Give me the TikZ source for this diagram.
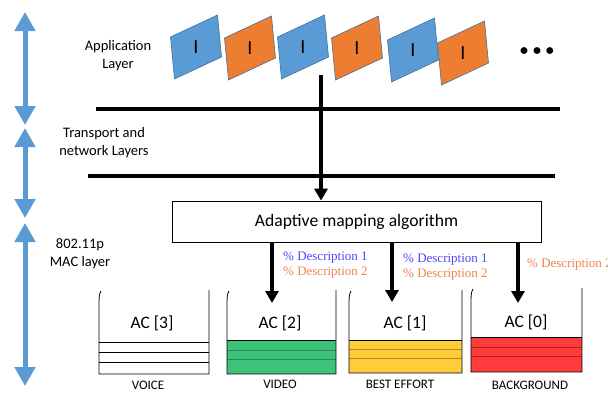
\documentclass[tikz,border=0pt]{standalone}
\usepackage{fontspec}
\setmainfont{Carlito}
\newfontfamily\descfont{Liberation Serif}
\usetikzlibrary{arrows.meta}
\definecolor{ablue}{HTML}{5B9BD5}
\definecolor{aorange}{HTML}{ED7D31}
\definecolor{edgeblue}{HTML}{41719C}
\definecolor{dblue}{HTML}{5046F5}
\definecolor{dorange}{HTML}{F0824A}
\definecolor{qgreen}{HTML}{3DC27A}
\definecolor{qgreenl}{HTML}{2A8A55}
\definecolor{qyellow}{HTML}{FFCD3A}
\definecolor{qyellowl}{HTML}{B08A20}
\definecolor{qred}{HTML}{FF3B3B}
\definecolor{qredl}{HTML}{A82020}
\tikzset{
  layerarrow/.style={draw=ablue,line width=5pt,{Triangle[width=20pt,length=19pt]}-{Triangle[width=20pt,length=19pt]}},
  flowarrow/.style={draw=black,line width=3.5pt,-{Triangle[width=13pt,length=12pt]}},
  layerline/.style={draw=black,line width=4pt},
  layertext/.style={align=center,font=\fontsize{14.5}{18}\selectfont},
  pkt/.style={draw=edgeblue,line width=0.6pt},
  pktlabel/.style={font=\fontsize{20}{20}\selectfont},
  algbox/.style={draw=black,line width=0.8pt,minimum width=369pt,minimum height=41pt,inner sep=0pt,font=\fontsize{17.6}{17.6}\selectfont},
  desc/.style={anchor=west,inner sep=0pt,font=\descfont\fontsize{13}{13}\selectfont},
  aclabel/.style={font=\fontsize{17.5}{17.5}\selectfont},
  qlabel/.style={font=\fontsize{13}{13}\selectfont},
  bucketline/.style={draw=black,line width=0.8pt}
}
\newcommand\pktshape[4]{%
  \filldraw[pkt,fill=#4] (#2-25.5,#3-10) -- ++(47,-22) -- ++(4,42) -- ++(-47,22) -- cycle;
  \node[pktlabel] (#1) at (#2,#3) {I};}
\newcommand\bucketshape[5]{% L R T B
  \draw[bucketline] (#1+2,#3+1) .. controls (#1,#3+4) and (#1,#3+9) .. (#1,#3+15) -- (#1,#4) -- (#2,#4) -- (#2,#3);}
\begin{document}
\begin{tikzpicture}[x=1pt,y=-1pt]
\useasboundingbox (0,0) rectangle (608,394);
% left layer arrows
\coordinate (a1t) at (25,12); \coordinate (a1b) at (25,125);
\coordinate (a2t) at (25,128); \coordinate (a2b) at (25,218);
\coordinate (a3t) at (25,223); \coordinate (a3b) at (25,386);
\draw[layerarrow] (a1t) -- (a1b);
\draw[layerarrow] (a2t) -- (a2b);
\draw[layerarrow] (a3t) -- (a3b);
% layer names
\node[layertext] (app) at (118,55.5) {Application\\Layer};
\node[layertext] (tn) at (104,143) {Transport and\\network Layers};
\node[layertext] (mac) at (80,254) {802.11p\\MAC layer};
% packets
\pktshape{p1}{196}{47}{ablue}
\pktshape{p2}{250}{48}{aorange}
\pktshape{p3}{303}{47}{ablue}
\pktshape{p4}{357}{48}{aorange}
\pktshape{p5}{413}{50}{ablue}
\pktshape{p6}{463}{53}{aorange}
\node[font=\fontsize{16}{16}\selectfont\bfseries] (dots) at (537,52) {\textbullet\hspace{5pt}\textbullet\hspace{5pt}\textbullet};
% layer separators
\coordinate (l1a) at (96,109); \coordinate (l1b) at (560,109);
\coordinate (l2a) at (88,176); \coordinate (l2b) at (555,176);
\draw[layerline] (l1a) -- (l1b);
\draw[layerline] (l2a) -- (l2b);
% algorithm box
\node[algbox] (box) at (356.5,221.5) {Adaptive mapping algorithm};
\coordinate (src) at (321,75);
\draw[flowarrow] (src) -- (src |- box.north);
% outgoing arrows
\coordinate (t2) at (272,303);
\coordinate (t1) at (392,302);
\coordinate (t0) at (518,303);
\draw[flowarrow] (box.south -| t2) -- (t2);
\draw[flowarrow] (box.south -| t1) -- (t1);
\draw[flowarrow] (box.south -| t0) -- (t0);
% descriptions
\node[desc,text=dblue] (d2a) at (283,258) {\% Description 1};
\node[desc,text=dorange] (d2b) at (283,273) {\% Description 2};
\node[desc,text=dblue] (d1a) at (403,260) {\% Description 1};
\node[desc,text=dorange] (d1b) at (403,275) {\% Description 2};
\node[desc,text=dorange] (d0b) at (527,265) {\% Description 2};
% queue VOICE
\bucketshape{99}{209}{290}{374}{}
\draw[bucketline] (99,342) -- (209,342) (99,352) -- (209,352) (99,362) -- (209,362);
\node[aclabel] (ac3) at (152,323) {AC [3]};
\node[qlabel] (q3) at (148,385) {VOICE};
% queue VIDEO
\fill[qgreen] (227,340) rectangle (336,374);
\draw[qgreenl,line width=0.7pt] (227,350) -- (336,350) (227,359) -- (336,359);
\draw[bucketline] (227,340) -- (336,340);
\bucketshape{227}{336}{290}{374}{}
\node[aclabel] (ac2) at (280,323) {AC [2]};
\node[qlabel] (q2) at (280,384) {VIDEO};
% queue BEST EFFORT
\fill[qyellow] (349,340) rectangle (462,373);
\draw[qyellowl,line width=0.7pt] (349,349) -- (462,349) (349,358) -- (462,358);
\draw[bucketline] (349,340) -- (462,340);
\bucketshape{349}{462}{290}{373}{}
\node[aclabel] (ac1) at (405,323) {AC [1]};
\node[qlabel] (q1) at (400,384) {BEST EFFORT};
% queue BACKGROUND
\fill[qred] (471,337) rectangle (582,372);
\draw[qredl,line width=0.7pt] (471,347) -- (582,347) (471,356) -- (582,356);
\draw[bucketline] (471,337) -- (582,337);
\bucketshape{471}{582}{288}{372}{}
\node[aclabel] (ac0) at (526,322) {AC [0]};
\node[qlabel] (q0) at (530,385) {BACKGROUND};
\end{tikzpicture}
\end{document}
